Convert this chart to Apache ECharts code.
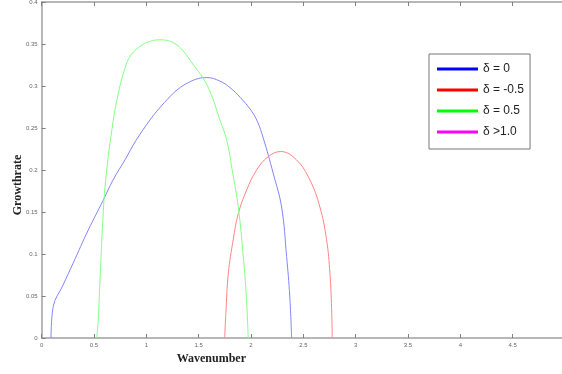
<!DOCTYPE html>
<html>
<head>
<meta charset="utf-8">
<script src="https://cdn.jsdelivr.net/npm/echarts@6/dist/echarts.min.js"></script>
<style>
    html, body { margin: 0; padding: 0; background: #fff; }
    #chart { width: 562px; height: 374px; }
</style>
</head>
<body>
<div id="chart"></div>
<script>
    // wavenumber / growthrate pairs
    const delta0 = [
        [0.089, 0], [0.111, 0.038], [0.2, 0.062], [0.3, 0.089], [0.445, 0.1286],
        [0.588, 0.164], [0.681, 0.188], [0.8, 0.213], [0.9, 0.235], [1.034, 0.2595],
        [1.1, 0.27], [1.2, 0.284], [1.3, 0.296], [1.4, 0.304], [1.5, 0.309],
        [1.58, 0.31], [1.7, 0.306], [1.8, 0.298], [1.9, 0.286], [2.0, 0.271],
        [2.06, 0.258], [2.117, 0.238], [2.212, 0.196], [2.292, 0.156],
        [2.34, 0.097], [2.37, 0.05], [2.388, 0]
    ]
    const deltaMinus05 = [
        [1.748, 0], [1.76, 0.03], [1.783, 0.077], [1.83, 0.117], [1.878, 0.148],
        [1.958, 0.176], [2.053, 0.2], [2.165, 0.216], [2.283, 0.222], [2.435, 0.212],
        [2.563, 0.188], [2.658, 0.156], [2.722, 0.117], [2.754, 0.077],
        [2.77, 0.035], [2.776, 0]
    ]
    const delta05 = [
        [0.525, 0], [0.54, 0.02], [0.55, 0.049], [0.565, 0.09], [0.579, 0.1286],
        [0.611, 0.188], [0.684, 0.2595], [0.732, 0.291], [0.78, 0.315], [0.843, 0.335],
        [0.939, 0.347], [1.03, 0.353], [1.13, 0.355], [1.25, 0.352], [1.35, 0.342],
        [1.45, 0.325], [1.544, 0.309], [1.62, 0.29], [1.703, 0.2595], [1.767, 0.236],
        [1.82, 0.2], [1.878, 0.156], [1.926, 0.097], [1.955, 0.05], [1.973, 0]
    ]
    const deltaOver1 = []

    const names = ['δ = 0', 'δ = -0.5', 'δ = 0.5', 'δ >1.0']
    const legendColors = ['#0000ff', '#ff0000', '#00ff00', '#ff00ff']
    const lineColors = ['#8484ff', '#ff8484', '#84ff84', '#ff84ff']

    const chart = echarts.init(document.getElementById('chart'))

    const axisLine = { lineStyle: { color: '#a0a0a0', width: 1.5 } }
    const axisTick = { inside: true, length: 4, lineStyle: { color: '#808080', width: 1 } }
    const tickLabel = { fontSize: 6, color: '#666', fontFamily: 'Liberation Sans' }
    const nameStyle = { fontFamily: 'Liberation Serif', fontWeight: 'bold', fontSize: 12, color: '#222' }

    const seriesData = [delta0, deltaMinus05, delta05, deltaOver1]

    chart.setOption({
        animation: false,
        backgroundColor: '#fff',
        grid: { left: 41.7, right: -3, top: 2, bottom: 36, outerBoundsMode: 'none', containLabel: false },
        legend: {
            orient: 'vertical',
            left: 429,
            top: 54,
            icon: 'rect',
            itemWidth: 41,
            itemHeight: 3,
            itemGap: 9,
            padding: [9, 6, 11, 8],
            borderColor: '#777',
            borderWidth: 1,
            backgroundColor: '#fff',
            textStyle: { fontSize: 12, fontFamily: 'Liberation Sans', color: '#222' },
            data: names.map((n, i) => ({ name: n, itemStyle: { color: legendColors[i] } }))
        },
        xAxis: [{
            type: 'value',
            min: 0,
            max: 5,
            interval: 0.5,
            name: 'Wavenumber',
            nameLocation: 'middle',
            nameGap: 14,
            nameTextStyle: Object.assign({ padding: [0, 184, 0, 0] }, nameStyle),
            axisLine: axisLine,
            axisTick: axisTick,
            axisLabel: Object.assign({ margin: 4 }, tickLabel),
            splitLine: { show: false }
        }, {
            type: 'value',
            position: 'top',
            min: 0,
            max: 5,
            interval: 0.5,
            axisLine: axisLine,
            axisTick: axisTick,
            axisLabel: { show: false },
            splitLine: { show: false }
        }],
        yAxis: {
            type: 'value',
            min: 0,
            max: 0.4,
            interval: 0.05,
            name: 'Growthrate',
            nameLocation: 'middle',
            nameGap: 18,
            nameMoveOverlap: false,
            nameTextStyle: Object.assign({ padding: [0, 30, 0, 0] }, nameStyle),
            axisLine: axisLine,
            axisTick: axisTick,
            axisLabel: Object.assign({ margin: 4 }, tickLabel),
            splitLine: { show: false }
        },
        series: seriesData.map((d, i) => ({
            name: names[i],
            type: 'line',
            data: d,
            showSymbol: false,
            smooth: 0.4,
            color: legendColors[i],
            lineStyle: { color: lineColors[i], width: 1 }
        }))
    })
</script>
</body>
</html>
